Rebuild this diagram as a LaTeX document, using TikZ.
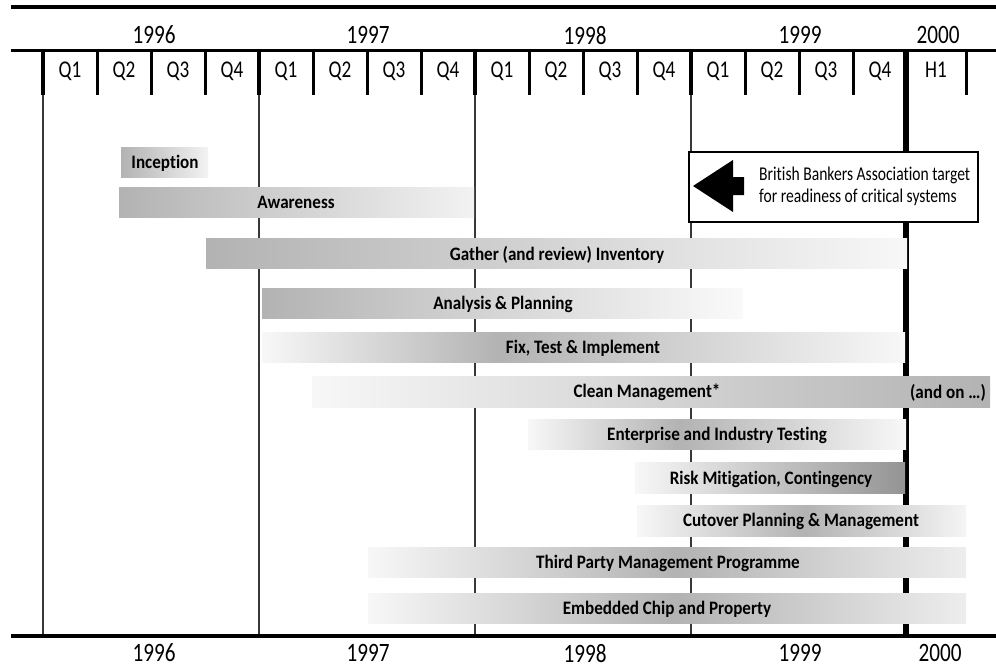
\documentclass[tikz,border=0pt]{standalone}
\usepackage{fontspec}
\setmainfont{Carlito}
\newfontfamily\hdrfont{Carlito}[FakeStretch=0.8, Ligatures=NoCommon]
\newfontfamily\barfont{Carlito}[FakeStretch=0.9, Ligatures=NoCommon]
\colorlet{bargray}{black!30}
\colorlet{rulegray}{black!78}
% peak shadings: the bar spans 25bp..75bp
\pgfdeclarehorizontalshading{peakfix}{100bp}{color(0bp)=(white); color(25bp)=(white!97!black); color(43.5bp)=(bargray); color(75bp)=(white!97!black); color(100bp)=(white)}
\pgfdeclarehorizontalshading{peakent}{100bp}{color(0bp)=(white); color(25bp)=(white!97!black); color(45bp)=(bargray); color(75bp)=(white!97!black); color(100bp)=(white)}
\pgfdeclarehorizontalshading{peakcut}{100bp}{color(0bp)=(white); color(25bp)=(white!97!black); color(50.5bp)=(bargray); color(75bp)=(white!96!black); color(100bp)=(white)}
\pgfdeclarehorizontalshading{peakmid}{100bp}{color(0bp)=(white); color(25bp)=(white!97!black); color(50.7bp)=(bargray); color(75bp)=(white!93!black); color(100bp)=(white)}
\tikzset{
  yearlabel/.style={font=\hdrfont\fontsize{26.5}{30}\selectfont, inner sep=0pt, text depth=0pt},
  qlabel/.style={font=\hdrfont\fontsize{24}{28}\selectfont, inner sep=0pt, text depth=0pt},
  barlabel/.style={font=\barfont\bfseries\fontsize{19}{22}\selectfont, inner sep=0pt, text depth=0pt},
  notelabel/.style={font=\hdrfont\fontsize{19.5}{22}\selectfont, inner sep=0pt, align=left, anchor=west},
  fadeout/.style={left color=bargray, right color=white!95!black},
  fadein/.style={left color=white!97!black, right color=bargray},
  yeartick/.style={line width=4.5pt},
  qtick/.style={line width=3pt},
  yearline/.style={line width=1.4pt, rulegray},
}
\begin{document}
\begin{tikzpicture}[x=1pt, y=-1pt]
  \useasboundingbox (0,0) rectangle (996,667);
  % year lines behind the bars
  \draw [yearline] (43,95) -- (43,636);
  \draw [yearline] (259,95) -- (259,636);
  \draw [yearline] (475,95) -- (475,636);
  \draw [yearline] (691,95) -- (691,636);
  \draw [line width=6.5pt] (906,50) -- (906,636);
  % bars
  \shade [fadeout] (121,147) rectangle (208,177);
  \node [barlabel] (inception) at (165,162) {Inception};
  \shade [fadeout] (119,187) rectangle (474,217);
  \node [barlabel] (awareness) at (296,202) {Awareness};
  \shade [fadeout, right color=white!97!black] (206,238) rectangle (907,268);
  \node [barlabel] (gather) at (557,253) {Gather (and review) Inventory};
  \shade [fadeout, right color=white!98!black] (262,288) rectangle (743,318);
  \node [barlabel] (analysis) at (503,303) {Analysis \& Planning};
  \shade [shading=peakfix] (262,332) rectangle (905,362);
  \node [barlabel] (fix) at (583,347) {Fix, Test \& Implement};
  \shade [fadein] (312,376) rectangle (990,407);
  \node [barlabel] (clean) at (647,391) {Clean Management*};
  \node [barlabel] (andon) at (948,391) {(and on …)};
  \shade [shading=peakent] (528,419) rectangle (906,449);
  \node [barlabel] (enterprise) at (717,434) {Enterprise and Industry Testing};
  \shade [fadein, right color=black!42] (635,462) rectangle (905,493);
  \node [barlabel] (risk) at (771,478) {Risk Mitigation, Contingency};
  \shade [shading=peakcut] (637,505) rectangle (966,536);
  \node [barlabel] (cutover) at (801,520) {Cutover Planning \& Management};
  \shade [shading=peakmid] (368,547) rectangle (966,577);
  \node [barlabel] (thirdparty) at (668,562) {Third Party Management Programme};
  \shade [shading=peakmid] (368,593) rectangle (966,623);
  \node [barlabel] (embedded) at (667,608) {Embedded Chip and Property};
  % target note with arrow
  \draw [line width=1.3pt, fill=white] (689,152) rectangle (978,222);
  \fill (693,186) -- (733,160) -- (733,177) -- (744,177) -- (744,195) -- (733,195) -- (733,212) -- cycle;
  \node [notelabel] (bba) at (759,186) {British Bankers Association target\\for readiness of critical systems};
  % rules
  \draw [line width=3.5pt] (11,7) -- (996,7);
  \draw [line width=3pt] (11,50) -- (996,50);
  \draw [line width=3.5pt] (11,636) -- (996,636);
  % header ticks
  \draw [yeartick] (43,50) -- (43,95);
  \draw [yeartick] (259,50) -- (259,95);
  \draw [yeartick] (475,50) -- (475,95);
  \draw [yeartick] (691,50) -- (691,95);
  \draw [qtick] (97,50) -- (97,95);
  \draw [qtick] (151,50) -- (151,95);
  \draw [qtick] (205,50) -- (205,95);
  \draw [qtick] (313,50) -- (313,95);
  \draw [qtick] (367,50) -- (367,95);
  \draw [qtick] (421,50) -- (421,95);
  \draw [qtick] (529,50) -- (529,95);
  \draw [qtick] (583,50) -- (583,95);
  \draw [qtick] (637,50) -- (637,95);
  \draw [qtick] (745,50) -- (745,95);
  \draw [qtick] (799,50) -- (799,95);
  \draw [qtick] (853,50) -- (853,95);
  \draw [qtick] (966,50) -- (966,95);
  % years
  \node [yearlabel] (y96) at (154,35) {1996};
  \node [yearlabel] (y97) at (368,35) {1997};
  \node [yearlabel] (y98) at (585,35) {1998};
  \node [yearlabel] (y99) at (800,35) {1999};
  \node [yearlabel] (y00) at (938,35) {2000};
  \node [yearlabel] (b96) at (154,653) {1996};
  \node [yearlabel] (b97) at (368,653) {1997};
  \node [yearlabel] (b98) at (585,653) {1998};
  \node [yearlabel] (b99) at (800,653) {1999};
  \node [yearlabel] (b00) at (940,653) {2000};
  % quarters
  \node [qlabel] (q96a) at (70,70) {Q1};
  \node [qlabel] (q96b) at (124,70) {Q2};
  \node [qlabel] (q96c) at (178,70) {Q3};
  \node [qlabel] (q96d) at (232,70) {Q4};
  \node [qlabel] (q97a) at (286,70) {Q1};
  \node [qlabel] (q97b) at (340,70) {Q2};
  \node [qlabel] (q97c) at (394,70) {Q3};
  \node [qlabel] (q97d) at (448,70) {Q4};
  \node [qlabel] (q98a) at (502,70) {Q1};
  \node [qlabel] (q98b) at (556,70) {Q2};
  \node [qlabel] (q98c) at (610,70) {Q3};
  \node [qlabel] (q98d) at (664,70) {Q4};
  \node [qlabel] (q99a) at (718,70) {Q1};
  \node [qlabel] (q99b) at (772,70) {Q2};
  \node [qlabel] (q99c) at (826,70) {Q3};
  \node [qlabel] (q99d) at (880,70) {Q4};
  \node [qlabel] (h00) at (936,70) {H1};
\end{tikzpicture}
\end{document}
